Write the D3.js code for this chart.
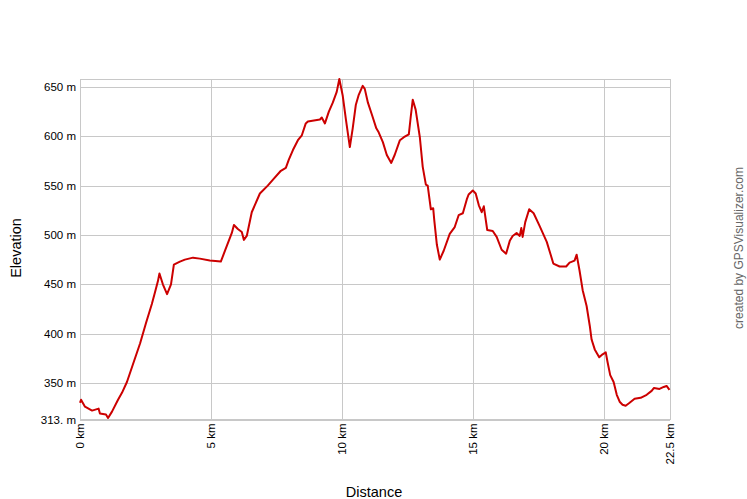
<!DOCTYPE html>
<html><head><meta charset="utf-8">
<script src="https://cdn.jsdelivr.net/npm/d3@7"></script>
<style>
html,body{margin:0;padding:0;background:#fff;}
text{font-family:"Liberation Sans",Arial,sans-serif;}
</style></head>
<body><svg id="c" width="747" height="499"></svg>
<script>
const distanceKm = [0.00,0.04,0.19,0.46,0.71,0.76,0.99,1.07,1.22,1.45,1.60,1.79,2.02,2.29,2.52,2.74,2.86,2.97,3.03,3.16,3.32,3.47,3.58,3.81,4.00,4.31,4.57,4.95,5.37,5.53,5.79,5.87,6.02,6.17,6.25,6.36,6.55,6.86,7.16,7.36,7.66,7.85,7.96,8.12,8.31,8.46,8.61,8.69,8.92,9.15,9.22,9.34,9.49,9.64,9.79,9.89,10.02,10.14,10.29,10.40,10.52,10.63,10.78,10.86,10.98,11.13,11.30,11.39,11.55,11.70,11.87,12.00,12.20,12.35,12.54,12.61,12.69,12.80,12.96,13.07,13.19,13.26,13.38,13.47,13.51,13.61,13.72,13.87,14.10,14.29,14.44,14.60,14.75,14.82,14.98,15.09,15.21,15.32,15.40,15.53,15.74,15.89,16.08,16.25,16.39,16.50,16.65,16.77,16.83,16.88,16.98,17.13,17.30,17.53,17.80,17.95,18.05,18.29,18.54,18.67,18.86,18.94,19.05,19.17,19.32,19.44,19.51,19.63,19.80,19.93,20.05,20.12,20.22,20.35,20.47,20.58,20.69,20.81,20.96,21.15,21.38,21.61,21.80,21.89,22.10,22.26,22.37,22.48];
const elevationM = [330,333,326,322,324,319,318,314.5,321,333,340,351,369,390,411,430,442,453,461,450,440,450,470,473,475,477,476,474,473,484,502,510,506,503,495,499,523,542,550,556,565,568,576,586,596,601,613,615,616,617,619,613,625,634,645,658,641,617,589,608,632,642,651,648,634,622,608,604,594,581,573,581,596,599,602,619,637,627,599,569,551,550,526,527,515,490,475,484,501,508,520,522,536,541,545,542,530,523,529,505,504,498,485,481,494,499,502,499,507,498,513,526,522,509,493,480,471,468,468,472,474,480,464,444,428,408,394,384,376,379,381,371,358,351,338,331,328,327,330,334,335,338,342,345,344,346,347,343];
const yTicks = [313,350,400,450,500,550,600,650];
const yTickLabels = ["313. m","350 m","400 m","450 m","500 m","550 m","600 m","650 m"];
const xTicks = [0,5,10,15,20,22.5];
const xTickLabels = ["0 km","5 km","10 km","15 km","20 km","22.5 km"];

const svg = d3.select("#c");
const L=80, R=670, T=79, B=419.5;
const x = d3.scaleLinear().domain([0,22.5]).range([L,R]);
const y = d3.scaleLinear().domain([313,658]).range([B,T]);
const grid = "#c8c8c8";

svg.append("g").selectAll("line").data(yTicks).join("line")
  .attr("x1",L).attr("x2",R).attr("y1",d=>Math.round(y(d))+0.5).attr("y2",d=>Math.round(y(d))+0.5)
  .attr("stroke",grid).attr("stroke-width",1);
svg.append("g").selectAll("line").data(xTicks).join("line")
  .attr("y1",T).attr("y2",B).attr("x1",d=>Math.round(x(d))+0.5).attr("x2",d=>Math.round(x(d))+0.5)
  .attr("stroke",grid).attr("stroke-width",1);
svg.append("rect").attr("x",L+0.5).attr("y",T+0.5).attr("width",R-L).attr("height",B-T-0.5)
  .attr("fill","none").attr("stroke",grid);

svg.append("g").selectAll("text").data(yTicks).join("text")
  .attr("x",L-4).attr("y",d=>y(d)+4).attr("text-anchor","end")
  .attr("font-size",11.5).attr("fill","#000").text((d,i)=>yTickLabels[i]);
svg.append("g").selectAll("text").data(xTicks).join("text")
  .attr("transform",d=>`translate(${x(d)+4},${B+4}) rotate(-90)`)
  .attr("text-anchor","end").attr("font-size",11.5).attr("fill","#000")
  .text((d,i)=>xTickLabels[i]);

const line = d3.line().x((d,i)=>x(distanceKm[i])).y(d=>y(d));
svg.append("path").datum(elevationM).attr("d",line)
  .attr("fill","none").attr("stroke","#cc0000").attr("stroke-width",2).attr("stroke-linejoin","round");

svg.append("text").attr("transform","translate(21,248) rotate(-90)").attr("text-anchor","middle")
  .attr("font-size",14.5).attr("fill","#000").text("Elevation");
svg.append("text").attr("x",374).attr("y",497).attr("text-anchor","middle")
  .attr("font-size",14.5).attr("fill","#000").text("Distance");
svg.append("text").attr("transform","translate(743,248) rotate(-90)").attr("text-anchor","middle")
  .attr("font-size",12).attr("fill","#666").text("created by GPSVisualizer.com");
</script></body></html>
